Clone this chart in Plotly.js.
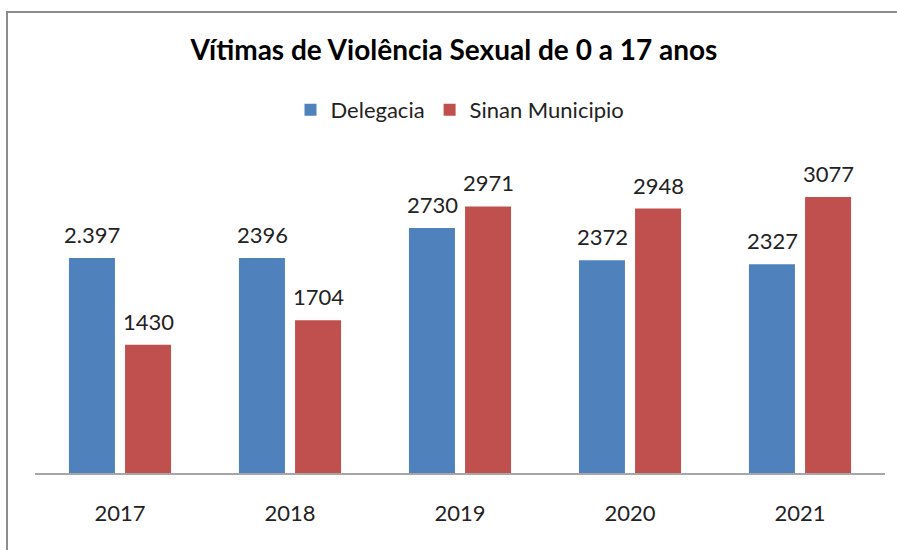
<!DOCTYPE html>
<html><head><meta charset="utf-8">
<script src="https://cdn.plot.ly/plotly-3.0.1.min.js"></script>
<style>
html,body{margin:0;padding:0;background:#fff;}
#chart{width:897px;height:550px;position:absolute;left:0;top:0;}
#frame{position:absolute;left:6px;top:11px;width:900px;height:600px;border-left:2px solid #8c8c8c;border-top:2px solid #8c8c8c;pointer-events:none;}
</style></head>
<body>
<div id="chart"></div>
<div id="frame"></div>
<script>
const categories = ["2017", "2018", "2019", "2020", "2021"];
const delegacia = [2397, 2396, 2730, 2372, 2327];
const sinan = [1430, 1704, 2971, 2948, 3077];
const delegaciaLabels = ["2.397", "2396", "2730", "2372", "2327"];
const sinanLabels = ["1430", "1704", "2971", "2948", "3077"];

const FONT = "Lato, 'Noto Sans', sans-serif";
const traces = [
  {type:"bar", name:"Delegacia", x:categories, y:delegacia, marker:{color:"#4F81BD"}, hoverinfo:"none"},
  {type:"bar", name:"Sinan Municipio", x:categories, y:sinan, marker:{color:"#C0504D"}, hoverinfo:"none"}
];
const annotations = [];
categories.forEach((c,i)=>{
  annotations.push({x:i, y:delegacia[i], xref:"x", yref:"y", text:delegaciaLabels[i], showarrow:false, yanchor:"bottom", xshift:-28, yshift:8, font:{size:22, color:"#222", family:FONT}});
  annotations.push({x:i, y:sinan[i], xref:"x", yref:"y", text:sinanLabels[i], showarrow:false, yanchor:"bottom", xshift:28, yshift:8, font:{size:22, color:"#222", family:FONT}});
});
const layout = {
  width:897, height:550,
  margin:{l:35, r:12, t:159, b:77},
  paper_bgcolor:"#fff", plot_bgcolor:"#fff",
  font:{family:FONT, color:"#222"},
  title:{text:"<b>Vítimas de Violência Sexual de 0 a 17 anos</b>", x:0.506, xanchor:"center", y:0.909, yanchor:"middle", font:{size:28, color:"#000", family:FONT}},
  showlegend:true,
  legend:{orientation:"h", x:0.5, xanchor:"center", y:1.156, yanchor:"middle", font:{size:22, color:"#222", family:FONT}, itemwidth:30, traceorder:"normal"},
  barmode:"group", bargap:0.34, bargroupgap:0.18,
  xaxis:{type:"category", range:[-0.5,4.5], autorange:false, showline:true, linecolor:"#a6a6a6", linewidth:1.5, ticks:"", tickfont:{size:22, color:"#222", family:FONT}, ticklabelstandoff:20, showgrid:false, zeroline:false, fixedrange:true},
  yaxis:{range:[0,3500], autorange:false, visible:false, showgrid:false, zeroline:false, fixedrange:true},
  annotations:annotations
};
Plotly.newPlot("chart", traces, layout, {displayModeBar:false, staticPlot:true});
</script>
</body></html>
